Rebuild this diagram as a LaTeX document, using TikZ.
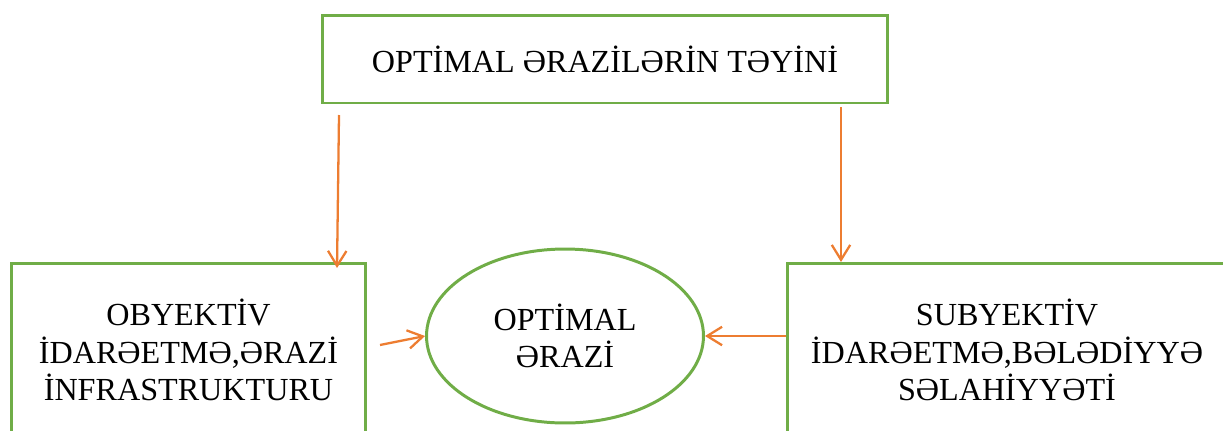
\documentclass[tikz,border=0pt]{standalone}
\usepackage{fontspec}
\setmainfont{Liberation Serif}
\usepackage{xcolor}
\usetikzlibrary{arrows.meta,shapes.geometric}

\definecolor{boxgreen}{HTML}{70AD47}
\definecolor{arrorange}{HTML}{ED7D31}

\begin{document}
\begin{tikzpicture}[x=0.02cm,y=-0.02cm,
  box/.style={draw=boxgreen,line width=1.7pt,inner sep=0pt,align=center,
    font=\fontsize{18.3}{21.2}\selectfont},
  oval/.style={box,ellipse},
  link/.style={draw=arrorange,line width=1.3pt,
    -{Straight Barb[length=8.5pt,width=10.5pt,line width=1.3pt]}}]
  \useasboundingbox (0,0) rectangle (1223,430);
  \clip (0,0) rectangle (1223,430);

\node[box,minimum width=11.32cm,minimum height=1.76cm] (tayin) at (605,59)
  {OPTİMAL ƏRAZİLƏRİN TƏYİNİ};
\node[box,minimum width=7.1cm,minimum height=3.48cm] (obyektiv) at (188.5,350)
  {OBYEKTİV\\İDARƏETMƏ,ƏRAZİ\\İNFRASTRUKTURU};
\node[box,minimum width=8.8cm,minimum height=3.48cm] (subyektiv) at (1007,350)
  {SUBYEKTİV\\İDARƏETMƏ,BƏLƏDİYYƏ\\SƏLAHİYYƏTİ};
\node[oval,minimum width=5.54cm,minimum height=3.48cm] (optimal) at (565,336)
  {OPTİMAL\\ƏRAZİ};

\coordinate (a1) at (339,115);
\coordinate (b1) at (337,268);
\coordinate (a2) at (841,107);
\coordinate (b2) at (841,262);
\coordinate (a3) at (380,345);

\draw[link] (a1) -- (b1);
\draw[link] (a2) -- (b2);
\draw[link] (a3) -- (optimal.west);
\draw[link] (subyektiv.west |- optimal.east) -- (optimal.east);
\end{tikzpicture}
\end{document}
